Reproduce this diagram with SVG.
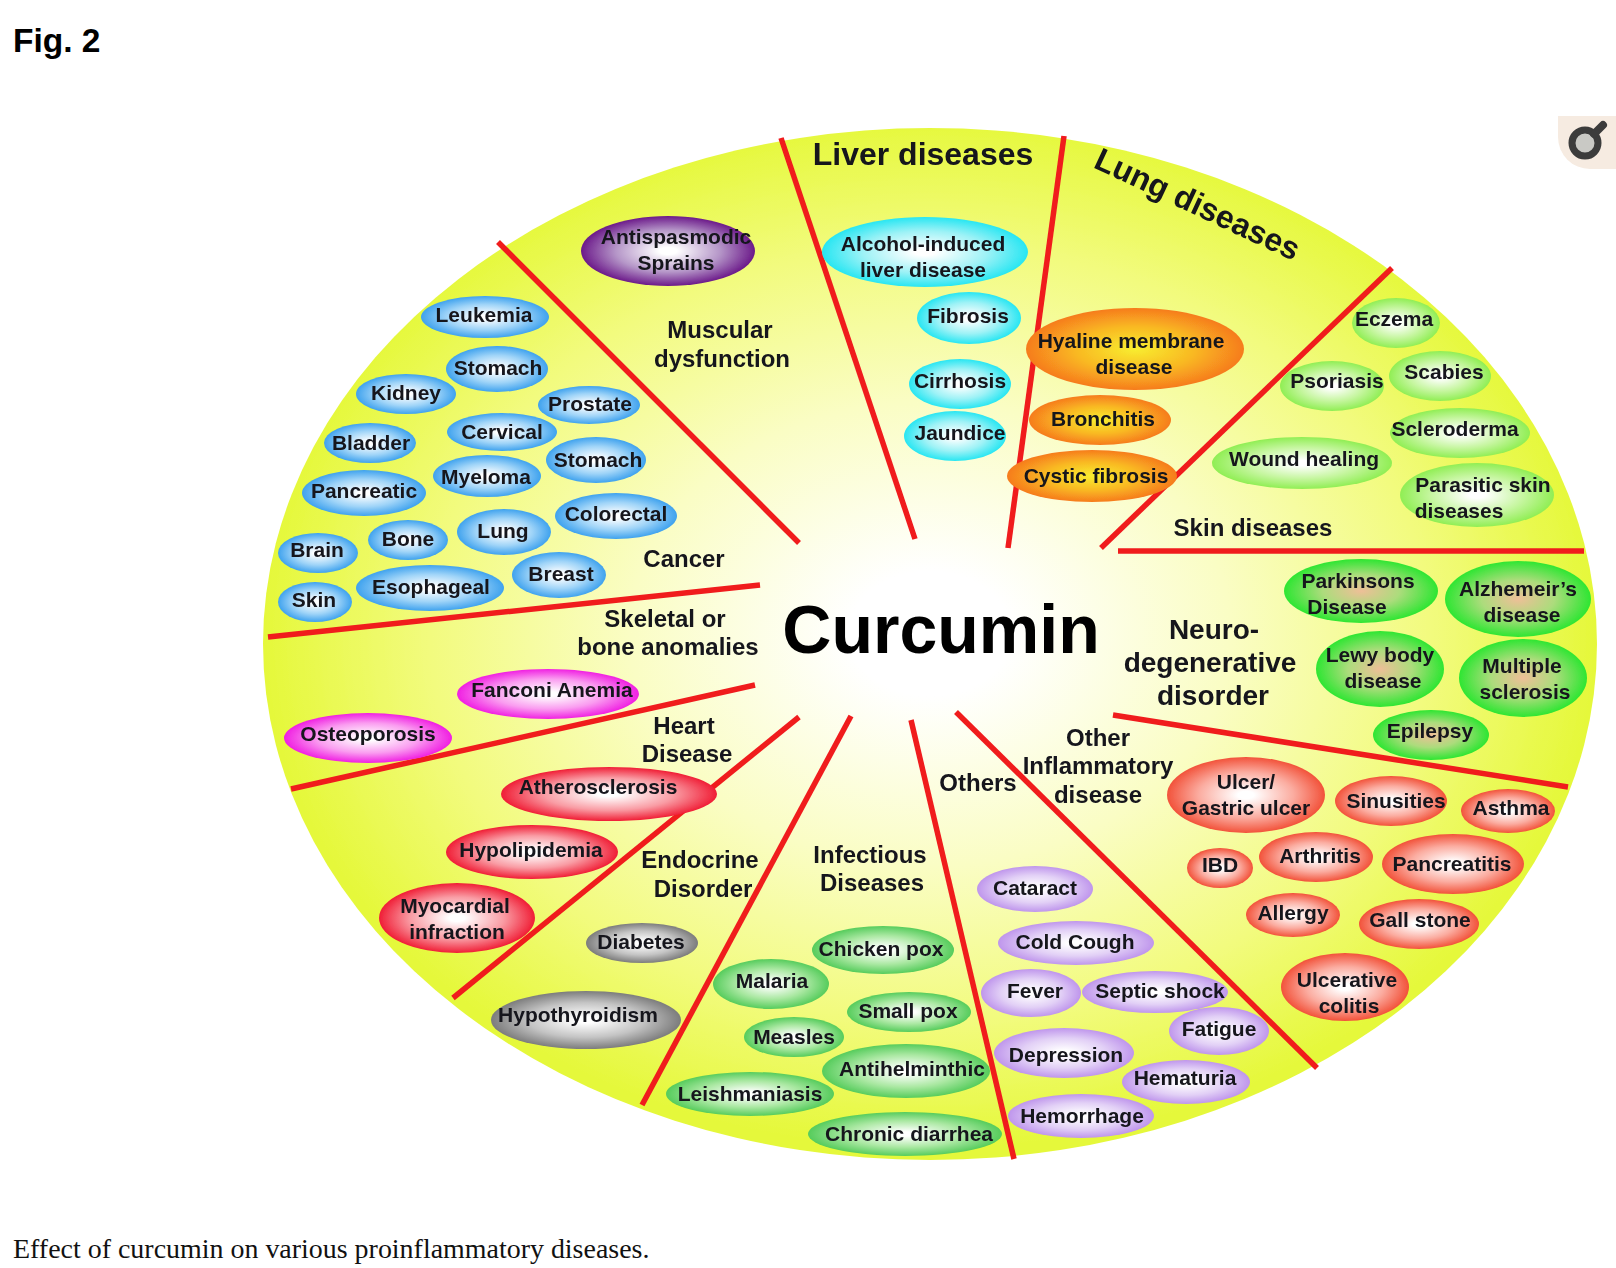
<svg xmlns="http://www.w3.org/2000/svg" width="1616" height="1268" viewBox="0 0 1616 1268">
<style>
text{font-family:"Liberation Sans",Arial,sans-serif;font-weight:700;fill:#14141c;text-anchor:middle;font-size:21px}
.c text,text.c{font-size:24px}
.big{font-size:68px;fill:#000}
.blue{fill:url(#gBlue)}.pur{fill:url(#gPur)}.cy{fill:url(#gCy)}.or{fill:url(#gOr)}.sk{fill:url(#gSk)}.neu{fill:url(#gNeu)}.inf{fill:url(#gInf)}.mag{fill:url(#gMag)}.red{fill:url(#gRed)}.gr{fill:url(#gGr)}.grn{fill:url(#gGrn)}.lil{fill:url(#gLil)}
#connectors line{stroke:#f01a1e;stroke-width:5.5;fill:none}
</style>
<defs>
<filter id="soft" x="0" y="0" width="1" height="1"><feGaussianBlur stdDeviation="0.7"/></filter>
<radialGradient id="gDisc" cx="0.5" cy="0.49" r="0.5"><stop offset="0.12" stop-color="#fff"/><stop offset="0.45" stop-color="#fafdc4"/><stop offset="0.75" stop-color="#f2fb7e"/><stop offset="1" stop-color="#e5f83a"/></radialGradient>
<radialGradient id="gBlue"><stop offset="0.1" stop-color="#fff"/><stop offset="0.6" stop-color="#9fd4f8"/><stop offset="1" stop-color="#3fa2ee"/></radialGradient>
<radialGradient id="gPur"><stop offset="0.1" stop-color="#fff"/><stop offset="0.6" stop-color="#b596c8"/><stop offset="1" stop-color="#6c1a8a"/></radialGradient>
<radialGradient id="gCy"><stop offset="0.1" stop-color="#fff"/><stop offset="0.6" stop-color="#9ef2f6"/><stop offset="1" stop-color="#28e6f2"/></radialGradient>
<radialGradient id="gOr"><stop offset="0" stop-color="#f8ee30"/><stop offset="0.55" stop-color="#f9b822"/><stop offset="1" stop-color="#f67c1e"/></radialGradient>
<radialGradient id="gSk"><stop offset="0.1" stop-color="#fff"/><stop offset="0.6" stop-color="#c6f6a0"/><stop offset="1" stop-color="#90ee54"/></radialGradient>
<radialGradient id="gNeu"><stop offset="0" stop-color="#eebf98"/><stop offset="0.5" stop-color="#acdc7c"/><stop offset="1" stop-color="#2ee632"/></radialGradient>
<radialGradient id="gInf"><stop offset="0.1" stop-color="#fff"/><stop offset="0.6" stop-color="#fbaca0"/><stop offset="1" stop-color="#f2523a"/></radialGradient>
<radialGradient id="gMag"><stop offset="0.1" stop-color="#fff"/><stop offset="0.6" stop-color="#fa9cf0"/><stop offset="1" stop-color="#f020e2"/></radialGradient>
<radialGradient id="gRed"><stop offset="0.1" stop-color="#fff"/><stop offset="0.6" stop-color="#f99ca4"/><stop offset="1" stop-color="#f01e36"/></radialGradient>
<radialGradient id="gGr"><stop offset="0.1" stop-color="#fff"/><stop offset="0.6" stop-color="#c4c4c4"/><stop offset="1" stop-color="#7c7c7c"/></radialGradient>
<radialGradient id="gGrn"><stop offset="0.1" stop-color="#fff"/><stop offset="0.6" stop-color="#aae8a2"/><stop offset="1" stop-color="#56cc5c"/></radialGradient>
<radialGradient id="gLil"><stop offset="0.1" stop-color="#fff"/><stop offset="0.6" stop-color="#e2d0f6"/><stop offset="1" stop-color="#bf96ec"/></radialGradient>
</defs>
<text x="13" y="52" style="text-anchor:start;font-size:33.5px;fill:#000">Fig. 2</text>
<text x="13" y="1258" style="text-anchor:start;font-family:'Liberation Serif','Times New Roman',serif;font-weight:400;font-size:27.95px;fill:#111">Effect of curcumin on various proinflammatory diseases.</text>
<g id="magnifier-tab">
<path d="M1558 116H1616V169H1590A32 32 0 0 1 1558 137Z" fill="#f6ebe1"/>
<circle cx="1585" cy="143" r="13" fill="#c9c9c5" stroke="#3c3c3c" stroke-width="7"/>
<line x1="1594" y1="134" x2="1603" y2="125" stroke="#3c3c3c" stroke-width="8" stroke-linecap="round"/>
</g>
<g filter="url(#soft)">
<ellipse id="disc" cx="930" cy="644" rx="667" ry="516" fill="url(#gDisc)"/>
<g id="connectors">
<line x1="498" y1="242" x2="799" y2="543"/>
<line x1="781" y1="138" x2="915" y2="539"/>
<line x1="1064" y1="136" x2="1008" y2="548"/>
<line x1="1392" y1="268" x2="1101" y2="548"/>
<line x1="1118" y1="551" x2="1584" y2="551"/>
<line x1="1113" y1="715" x2="1568" y2="787"/>
<line x1="956" y1="712" x2="1317" y2="1068"/>
<line x1="911" y1="720" x2="1014" y2="1159"/>
<line x1="851" y1="716" x2="642" y2="1105"/>
<line x1="799" y1="717" x2="453" y2="998"/>
<line x1="755" y1="685" x2="291" y2="789"/>
<line x1="760" y1="585" x2="268" y2="637"/>
</g>
<g id="center"><text class="big" x="941" y="653">Curcumin</text></g>
<g id="categories" class="c">
<text x="923" y="165" style="font-size:32px">Liver diseases</text>
<text x="0" y="0" transform="translate(1193 214) rotate(25)" style="font-size:32px">Lung diseases</text>
<text x="720" y="338">Muscular</text><text x="722" y="367">dysfunction</text>
<text x="684" y="567">Cancer</text>
<text x="665" y="627">Skeletal or</text><text x="668" y="655">bone anomalies</text>
<text x="684" y="734">Heart</text><text x="687" y="762">Disease</text>
<text x="700" y="868">Endocrine</text><text x="703" y="897">Disorder</text>
<text x="870" y="863">Infectious</text><text x="872" y="891">Diseases</text>
<text x="978" y="791">Others</text>
<text x="1098" y="746">Other</text><text x="1098" y="774">Inflammatory</text><text x="1098" y="803">disease</text>
<text x="1214" y="639" style="font-size:28px">Neuro-</text><text x="1210" y="672" style="font-size:28px">degenerative</text><text x="1213" y="705" style="font-size:28px">disorder</text>
<text x="1253" y="536">Skin diseases</text>
</g>
<g id="n-antispasmodic"><ellipse class="pur" cx="668" cy="251" rx="87" ry="35"/><text x="676" y="244">Antispasmodic</text><text x="676" y="270">Sprains</text></g>
<g id="n-leukemia"><ellipse class="blue" cx="485" cy="317" rx="64" ry="21"/><text x="484" y="322">Leukemia</text></g>
<g id="n-stomach1"><ellipse class="blue" cx="497" cy="369" rx="51" ry="23"/><text x="498" y="375">Stomach</text></g>
<g id="n-kidney"><ellipse class="blue" cx="406" cy="394" rx="50" ry="20"/><text x="406" y="400">Kidney</text></g>
<g id="n-prostate"><ellipse class="blue" cx="589" cy="405" rx="51" ry="19"/><text x="590" y="411">Prostate</text></g>
<g id="n-cervical"><ellipse class="blue" cx="502" cy="432" rx="55" ry="19"/><text x="502" y="439">Cervical</text></g>
<g id="n-bladder"><ellipse class="blue" cx="370" cy="443" rx="46" ry="20"/><text x="371" y="450">Bladder</text></g>
<g id="n-stomach2"><ellipse class="blue" cx="596" cy="460" rx="50" ry="23"/><text x="598" y="467">Stomach</text></g>
<g id="n-myeloma"><ellipse class="blue" cx="487" cy="476" rx="54" ry="21"/><text x="486" y="484">Myeloma</text></g>
<g id="n-pancreatic"><ellipse class="blue" cx="364" cy="493" rx="62" ry="23"/><text x="364" y="498">Pancreatic</text></g>
<g id="n-colorectal"><ellipse class="blue" cx="616" cy="516" rx="61" ry="23"/><text x="616" y="521">Colorectal</text></g>
<g id="n-lung"><ellipse class="blue" cx="504" cy="532" rx="47" ry="23"/><text x="503" y="538">Lung</text></g>
<g id="n-bone"><ellipse class="blue" cx="408" cy="540" rx="40" ry="20"/><text x="408" y="546">Bone</text></g>
<g id="n-brain"><ellipse class="blue" cx="318" cy="553" rx="40" ry="20"/><text x="317" y="557">Brain</text></g>
<g id="n-breast"><ellipse class="blue" cx="559" cy="575" rx="47" ry="23"/><text x="561" y="581">Breast</text></g>
<g id="n-esophageal"><ellipse class="blue" cx="430" cy="588" rx="74" ry="23"/><text x="431" y="594">Esophageal</text></g>
<g id="n-skin"><ellipse class="blue" cx="315" cy="602" rx="37" ry="20"/><text x="314" y="607">Skin</text></g>
<g id="n-alcohol"><ellipse class="cy" cx="925" cy="252" rx="103" ry="35"/><text x="923" y="251">Alcohol-induced</text><text x="923" y="277">liver disease</text></g>
<g id="n-fibrosis"><ellipse class="cy" cx="969" cy="318" rx="52" ry="26"/><text x="968" y="323">Fibrosis</text></g>
<g id="n-cirrhosis"><ellipse class="cy" cx="960" cy="384" rx="51" ry="25"/><text x="960" y="388">Cirrhosis</text></g>
<g id="n-jaundice"><ellipse class="cy" cx="955" cy="436" rx="51" ry="25"/><text x="960" y="440">Jaundice</text></g>
<g id="n-hyaline"><ellipse class="or" cx="1135" cy="349" rx="109" ry="41"/><text x="1131" y="348">Hyaline membrane</text><text x="1134" y="374">disease</text></g>
<g id="n-bronchitis"><ellipse class="or" cx="1100" cy="420" rx="71" ry="25"/><text x="1103" y="426">Bronchitis</text></g>
<g id="n-cystic"><ellipse class="or" cx="1092" cy="476" rx="85" ry="26"/><text x="1096" y="483">Cystic fibrosis</text></g>
<g id="n-eczema"><ellipse class="sk" cx="1396" cy="323" rx="44" ry="25"/><text x="1394" y="326">Eczema</text></g>
<g id="n-psoriasis"><ellipse class="sk" cx="1332" cy="386" rx="52" ry="25"/><text x="1337" y="388">Psoriasis</text></g>
<g id="n-scabies"><ellipse class="sk" cx="1440" cy="376" rx="51" ry="25"/><text x="1444" y="379">Scabies</text></g>
<g id="n-scleroderma"><ellipse class="sk" cx="1460" cy="433" rx="70" ry="25"/><text x="1455" y="436">Scleroderma</text></g>
<g id="n-wound"><ellipse class="sk" cx="1302" cy="463" rx="90" ry="26"/><text x="1304" y="466">Wound healing</text></g>
<g id="n-parasitic"><ellipse class="sk" cx="1477" cy="495" rx="77" ry="32"/><text x="1483" y="492">Parasitic skin</text><text x="1459" y="518">diseases</text></g>
<g id="n-parkinsons"><ellipse class="neu" cx="1361" cy="591" rx="77" ry="32"/><text x="1358" y="588">Parkinsons</text><text x="1347" y="614">Disease</text></g>
<g id="n-alzheimer"><ellipse class="neu" cx="1518" cy="599" rx="73" ry="38"/><text x="1518" y="596">Alzhemeir’s</text><text x="1522" y="622">disease</text></g>
<g id="n-lewy"><ellipse class="neu" cx="1380" cy="669" rx="64" ry="38"/><text x="1380" y="662">Lewy body</text><text x="1383" y="688">disease</text></g>
<g id="n-multiple"><ellipse class="neu" cx="1523" cy="678" rx="64" ry="39"/><text x="1522" y="673">Multiple</text><text x="1525" y="699">sclerosis</text></g>
<g id="n-epilepsy"><ellipse class="neu" cx="1431" cy="735" rx="58" ry="25"/><text x="1430" y="738">Epilepsy</text></g>
<g id="n-ulcer"><ellipse class="inf" cx="1246" cy="795" rx="79" ry="38"/><text x="1246" y="789">Ulcer/</text><text x="1246" y="815">Gastric ulcer</text></g>
<g id="n-sinusities"><ellipse class="inf" cx="1391" cy="801" rx="56" ry="25"/><text x="1396" y="808">Sinusities</text></g>
<g id="n-asthma"><ellipse class="inf" cx="1508" cy="811" rx="47" ry="22"/><text x="1511" y="815">Asthma</text></g>
<g id="n-ibd"><ellipse class="inf" cx="1220" cy="868" rx="33" ry="20"/><text x="1220" y="872">IBD</text></g>
<g id="n-arthritis"><ellipse class="inf" cx="1316" cy="857" rx="57" ry="25"/><text x="1320" y="863">Arthritis</text></g>
<g id="n-pancreatitis"><ellipse class="inf" cx="1453" cy="864" rx="71" ry="30"/><text x="1452" y="871">Pancreatitis</text></g>
<g id="n-allergy"><ellipse class="inf" cx="1293" cy="915" rx="47" ry="22"/><text x="1293" y="920">Allergy</text></g>
<g id="n-gallstone"><ellipse class="inf" cx="1419" cy="924" rx="60" ry="25"/><text x="1420" y="927">Gall stone</text></g>
<g id="n-ulcerative"><ellipse class="inf" cx="1345" cy="987" rx="64" ry="34"/><text x="1347" y="987">Ulcerative</text><text x="1349" y="1013">colitis</text></g>
<g id="n-fanconi"><ellipse class="mag" cx="548" cy="694" rx="91" ry="25"/><text x="552" y="697">Fanconi Anemia</text></g>
<g id="n-osteoporosis"><ellipse class="mag" cx="368" cy="738" rx="84" ry="25"/><text x="368" y="741">Osteoporosis</text></g>
<g id="n-atherosclerosis"><ellipse class="red" cx="609" cy="794" rx="108" ry="27"/><text x="598" y="794">Atherosclerosis</text></g>
<g id="n-hypolipidemia"><ellipse class="red" cx="532" cy="852" rx="86" ry="27"/><text x="531" y="857">Hypolipidemia</text></g>
<g id="n-myocardial"><ellipse class="red" cx="457" cy="918" rx="78" ry="35"/><text x="455" y="913">Myocardial</text><text x="457" y="939">infraction</text></g>
<g id="n-diabetes"><ellipse class="gr" cx="642" cy="943" rx="56" ry="20"/><text x="641" y="949">Diabetes</text></g>
<g id="n-hypothyroidism"><ellipse class="gr" cx="586" cy="1020" rx="95" ry="29"/><text x="578" y="1022">Hypothyroidism</text></g>
<g id="n-chickenpox"><ellipse class="grn" cx="883" cy="950" rx="71" ry="24"/><text x="881" y="956">Chicken pox</text></g>
<g id="n-malaria"><ellipse class="grn" cx="771" cy="984" rx="58" ry="25"/><text x="772" y="988">Malaria</text></g>
<g id="n-smallpox"><ellipse class="grn" cx="909" cy="1012" rx="62" ry="20"/><text x="908" y="1018">Small pox</text></g>
<g id="n-measles"><ellipse class="grn" cx="794" cy="1037" rx="50" ry="20"/><text x="794" y="1044">Measles</text></g>
<g id="n-antihelminthic"><ellipse class="grn" cx="906" cy="1071" rx="84" ry="27"/><text x="912" y="1076">Antihelminthic</text></g>
<g id="n-leishmaniasis"><ellipse class="grn" cx="750" cy="1094" rx="84" ry="22"/><text x="750" y="1101">Leishmaniasis</text></g>
<g id="n-diarrhea"><ellipse class="grn" cx="905" cy="1134" rx="97" ry="22"/><text x="909" y="1141">Chronic diarrhea</text></g>
<g id="n-cataract"><ellipse class="lil" cx="1035" cy="889" rx="58" ry="23"/><text x="1035" y="895">Cataract</text></g>
<g id="n-coldcough"><ellipse class="lil" cx="1076" cy="943" rx="78" ry="22"/><text x="1075" y="949">Cold Cough</text></g>
<g id="n-fever"><ellipse class="lil" cx="1031" cy="993" rx="50" ry="24"/><text x="1035" y="998">Fever</text></g>
<g id="n-septic"><ellipse class="lil" cx="1155" cy="992" rx="73" ry="21"/><text x="1160" y="998">Septic shock</text></g>
<g id="n-fatigue"><ellipse class="lil" cx="1219" cy="1031" rx="50" ry="24"/><text x="1219" y="1036">Fatigue</text></g>
<g id="n-depression"><ellipse class="lil" cx="1064" cy="1053" rx="70" ry="25"/><text x="1066" y="1062">Depression</text></g>
<g id="n-hematuria"><ellipse class="lil" cx="1186" cy="1082" rx="64" ry="22"/><text x="1185" y="1085">Hematuria</text></g>
<g id="n-hemorrhage"><ellipse class="lil" cx="1081" cy="1116" rx="73" ry="22"/><text x="1082" y="1123">Hemorrhage</text></g>
</g>
</svg>
